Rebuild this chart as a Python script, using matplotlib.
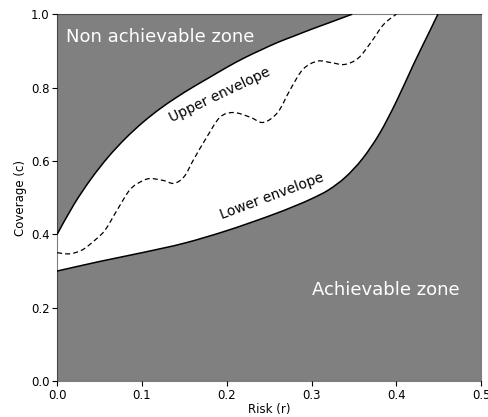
import matplotlib
matplotlib.use("Agg")
import matplotlib.pyplot as plt
import numpy as np
from matplotlib.path import Path
from matplotlib.patches import PathPatch

# upper envelope (risk, coverage)
upper_r = [0, 0.02, 0.04, 0.06, 0.08, 0.10, 0.12, 0.14, 0.16, 0.18, 0.20,
           0.22, 0.24, 0.26, 0.28, 0.30, 0.32, 0.348]
upper_c = [0.400, 0.482, 0.551, 0.610, 0.660, 0.703, 0.740, 0.772, 0.801, 0.828, 0.855,
           0.880, 0.902, 0.923, 0.941, 0.959, 0.976, 1.0]

# lower envelope
lower_r = [0, 0.05, 0.10, 0.15, 0.20, 0.25, 0.28, 0.30, 0.32, 0.34, 0.36,
           0.38, 0.40, 0.42, 0.44, 0.449]
lower_c = [0.300, 0.326, 0.350, 0.376, 0.410, 0.450, 0.477, 0.497, 0.521, 0.556, 0.606,
           0.674, 0.762, 0.862, 0.957, 1.0]

# dashed curve between the envelopes
mid_r = [0, 0.015, 0.03, 0.045, 0.057, 0.071, 0.086, 0.10, 0.11, 0.125, 0.138, 0.15,
         0.161, 0.177, 0.192, 0.208, 0.228, 0.243, 0.26, 0.275, 0.29, 0.307, 0.323,
         0.339, 0.355, 0.37, 0.385, 0.40]
mid_c = [0.350, 0.347, 0.358, 0.385, 0.413, 0.467, 0.522, 0.545, 0.552, 0.547, 0.539, 0.558,
         0.604, 0.667, 0.719, 0.732, 0.719, 0.705, 0.732, 0.795, 0.850, 0.872, 0.868,
         0.863, 0.880, 0.923, 0.972, 1.0]


def smooth_segments(xs, ys):
    # catmull-rom through the points, as cubic bezier vertices/codes
    p = np.column_stack([xs, ys]).astype(float)
    n = len(p)
    verts = [p[0]]
    codes = [Path.MOVETO]
    for i in range(n - 1):
        p0 = p[max(i - 1, 0)]
        p1 = p[i]
        p2 = p[i + 1]
        p3 = p[min(i + 2, n - 1)]
        c1 = p1 + (p2 - p0) / 6.0
        c2 = p2 - (p3 - p1) / 6.0
        verts += [c1, c2, p2]
        codes += [Path.CURVE4] * 3
    return verts, codes


fig = plt.figure(figsize=(4.88, 4.17), dpi=100)
ax = fig.add_axes([0.117, 0.086, 0.869, 0.880])

gray = "#808080"

# area above the upper envelope
v, c = smooth_segments(upper_r, upper_c)
v = v + [(0, 1.0), (0, upper_c[0]), (0, upper_c[0])]
c = c + [Path.LINETO, Path.LINETO, Path.CLOSEPOLY]
ax.add_patch(PathPatch(Path(v, c), facecolor=gray, lw=0))

# area below the lower envelope
v, c = smooth_segments(lower_r, lower_c)
v = v + [(0.5, 1.0), (0.5, 0), (0, 0), (0, lower_c[0])]
c = c + [Path.LINETO, Path.LINETO, Path.LINETO, Path.CLOSEPOLY]
ax.add_patch(PathPatch(Path(v, c), facecolor=gray, lw=0))

for xs, ys, ls, lw in [(upper_r, upper_c, "-", 1.1),
                       (lower_r, lower_c, "-", 1.1),
                       (mid_r, mid_c, (0, (4, 2.5)), 0.9)]:
    v, c = smooth_segments(xs, ys)
    ax.add_patch(PathPatch(Path(v, c), facecolor="none", edgecolor="k",
                           lw=lw, ls=ls))

ax.text(0.01, 0.937, "Non achievable zone", color="white", fontsize=13,
        ha="left", va="center")
ax.text(0.388, 0.247, "Achievable zone", color="white", fontsize=13,
        ha="center", va="center")
ax.text(0.192, 0.781, "Upper envelope", color="k", fontsize=10,
        rotation=25.5, ha="center", va="center")
ax.text(0.253, 0.503, "Lower envelope", color="k", fontsize=10,
        rotation=20.5, ha="center", va="center")

ax.set_xlim(0, 0.5)
ax.set_ylim(0, 1.0)
ax.set_xlabel("Risk (r)", fontsize=8.5, labelpad=1)
ax.set_ylabel("Coverage (c)", fontsize=8.5, labelpad=3)
ax.tick_params(labelsize=8.5, length=3.5, width=0.8, pad=2)
for sp in ax.spines.values():
    sp.set_color("k")
    sp.set_alpha(0.5)

fig.savefig("out.png", dpi=100)
